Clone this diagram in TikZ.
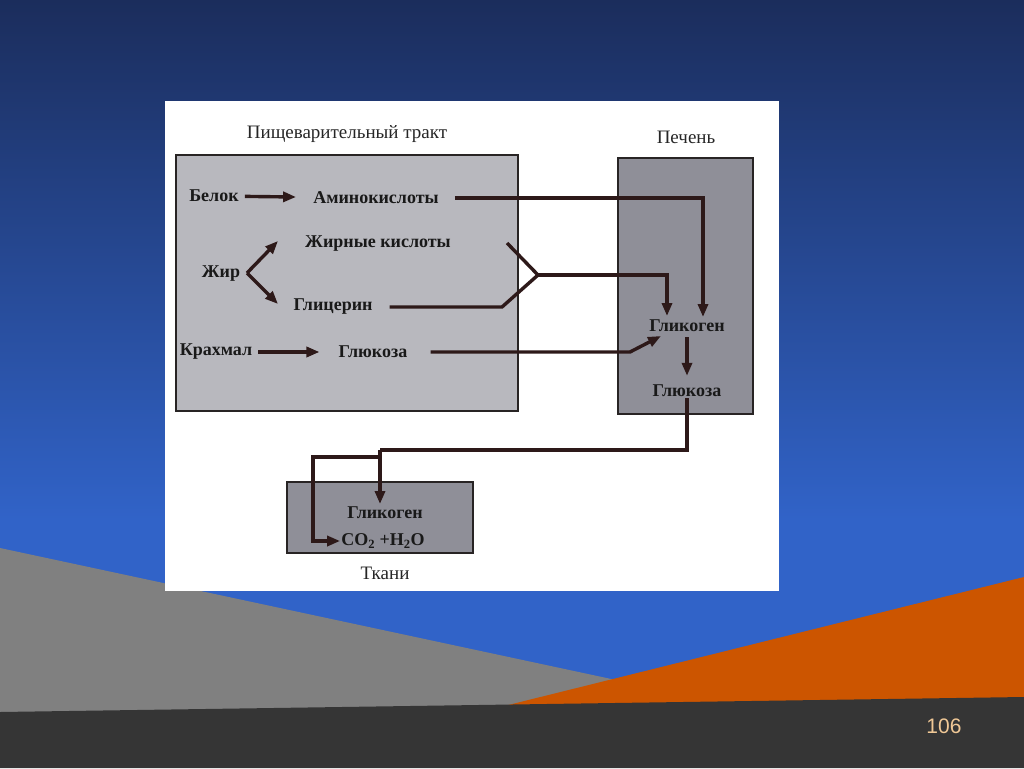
\documentclass[tikz,border=0pt]{standalone}
\usepackage{fontspec}
\setmainfont{Liberation Serif}
\newfontfamily\pagefont{Liberation Sans}
\usetikzlibrary{positioning, arrows.meta}

\definecolor{bgtop}{RGB}{27,45,92}
\definecolor{bgblue}{RGB}{49,99,200}
\definecolor{slidegray}{RGB}{128,128,128}
\definecolor{slideorange}{RGB}{204,85,0}
\definecolor{slidedark}{RGB}{53,53,53}
\definecolor{pagenum}{RGB}{240,200,150}
\definecolor{tractfill}{RGB}{184,184,190}
\definecolor{liverfill}{RGB}{143,143,152}
\definecolor{boxedge}{RGB}{40,36,36}
\definecolor{arrowcol}{RGB}{45,25,25}

\begin{document}
\begin{tikzpicture}[x=1pt, y=-1pt,
        lbl/.style={font=\fontsize{18}{20}\selectfont\bfseries, text=black!90, inner sep=1pt},
        ttl/.style={font=\fontsize{19}{21}\selectfont, text=black!85, inner sep=1pt},
        arr/.style={-{Triangle[length=13pt,width=10pt]}, line width=3.4pt, draw=arrowcol},
        ln/.style={line width=3.4pt, draw=arrowcol},
        box/.style={draw=boxedge, line width=1.6pt, inner sep=0pt}]
        % slide background
        \useasboundingbox (0,0) rectangle (1024,768);
        \shade[top color=bgtop, bottom color=bgblue] (0,0) rectangle (1024,520);
        \fill[bgblue] (0,519) rectangle (1024,768);
        \fill[slidegray] (0,548) -- (700,698) -- (700,716) -- (0,716) -- cycle;
        \fill[slideorange] (480,712) -- (1024,577) -- (1024,702) -- cycle;
        \fill[slidedark] (0,712) -- (1024,697) -- (1024,768) -- (0,768) -- cycle;
        \node[font=\pagefont\fontsize{21}{23}\selectfont, text=pagenum] (pagenr) at (944,726) {106};

        % white sheet
        \fill[white] (165,101) rectangle (779,591);

        % boxes
        \node[box, fill=tractfill, minimum width=342pt, minimum height=256pt] (tract) at (347,283) {};
        \node[box, fill=liverfill, minimum width=135pt, minimum height=256pt] (liver) at (685.5,286) {};
        \node[box, fill=liverfill, minimum width=186pt, minimum height=71pt] (tissue) at (380,517.5) {};
        \node[ttl] (tracttitle) at (347,134) {Пищеварительный тракт};
        \node[ttl] (livertitle) at (686,137) {Печень};
        \node[ttl] (tissuetitle) at (385,573) {Ткани};

        % digestive tract
        \node[lbl] (belok) at (214,196) {Белок};
        \node[lbl] (amino) at (376,198) {Аминокислоты};
        \node[lbl] (fatacids) at (378,244) {Жирные кислоты};
        \node[lbl] (zhir) at (221,274) {Жир};
        \node[lbl] (glycerin) at (333,307) {Глицерин};
        \node[lbl] (starch) at (216,352) {Крахмал};
        \node[lbl] (glucose) at (373,352) {Глюкоза};

        % liver and tissues
        \node[lbl] (liverglycogen) at (687,326) {Гликоген};
        \node[lbl] (liverglucose) at (687,391) {Глюкоза};
        \node[lbl] (tissueglycogen) at (385,513) {Гликоген};
        \node[lbl] (co2) at (383,541) {CO\textsubscript{2} +H\textsubscript{2}O};

        \coordinate (fork) at (247,273);
        \coordinate (fattip) at (278,241);
        \coordinate (glyctip) at (278,304);
        \coordinate (fatstart) at (507,243);
        \coordinate (glycbend) at (502,307);
        \coordinate (fatjoin) at (538,275);
        \coordinate (aminotip) at (703,317);
        \coordinate (fatliver) at (667,316);
        \coordinate (glucbend) at (630,352);
        \coordinate (gluctip) at (661,336);
        \coordinate (split) at (380,450);
        \coordinate (tissuetip) at (380,504);
        \coordinate (branch) at (380,457);

        \draw[arr, shorten <=5pt, shorten >=16pt] (belok) -- (amino);
        \draw[arr, shorten <=5pt, shorten >=18pt] (starch) -- (glucose);
        \draw[arr] (fork) -- (fattip);
        \draw[arr] (fork) -- (glyctip);

        \draw[arr, shorten <=15pt] (amino.east) -| (aminotip);
        \draw[ln] (fatstart) -- (fatjoin);
        \draw[ln, shorten <=16pt] (glycerin.east) -- (glycbend) -- (fatjoin);
        \draw[arr] (fatjoin) -| (fatliver);
        \draw[arr, shorten <=22pt] (glucose.east) -- (glucbend) -- (gluctip);

        \draw[arr, shorten <=4pt, shorten >=8pt] (liverglycogen) -- (liverglucose);
        \draw[ln] (liverglucose.south) |- (split);
        \draw[arr] (split) -- (tissuetip);
        \draw[arr] (branch) -| ([xshift=-27pt]co2.west) -- (co2.west);
\end{tikzpicture}
\end{document}
